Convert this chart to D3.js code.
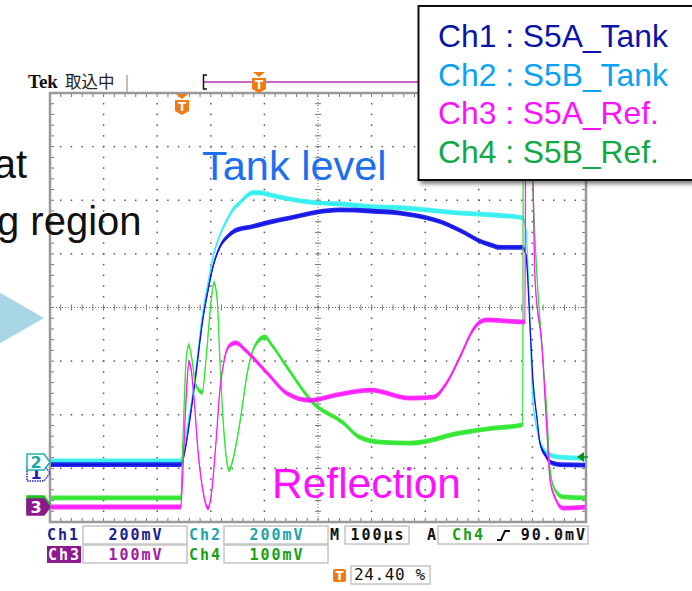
<!DOCTYPE html>
<html><head><meta charset="utf-8">
<script src="https://cdn.jsdelivr.net/npm/d3@7/dist/d3.min.js"></script>
<style>html,body{margin:0;padding:0;background:#fff;}svg{display:block;}</style>
</head><body>
<script>
// ---- data: time in µs (10 div x 100 µs), level in graticule divisions ----
const timeRange = [0, 1000];
const divRange = [-4, 4];
const ch1 = [[0,-2.93],[244,-2.93],[252,-2.66],[258,-2.29],[271,-1.35],[285,-0.23],[295,0.33],[304,0.76],[317,1.13],[332,1.33],[349,1.45],[373,1.50],[405,1.58],[448,1.67],[498,1.78],[541,1.82],[597,1.80],[653,1.76],[703,1.67],[728,1.60],[752,1.50],[774,1.39],[797,1.26],[821,1.17],[840,1.12],[882,1.12],[888,0.98],[896,-0.42],[901,-1.35],[909,-2.10],[914,-2.53],[924,-2.75],[933,-2.88],[952,-2.93],[1000,-2.94]];
const ch2 = [[0,-2.86],[244,-2.86],[252,-2.47],[261,-1.97],[272,-1.17],[285,-0.10],[295,0.46],[304,0.94],[317,1.35],[330,1.63],[341,1.82],[354,1.95],[367,2.08],[379,2.14],[392,2.14],[410,2.10],[448,2.02],[498,1.95],[541,1.93],[597,1.88],[653,1.86],[703,1.82],[765,1.76],[821,1.73],[882,1.67],[888,1.45],[894,0.14],[901,-1.73],[909,-2.29],[918,-2.60],[933,-2.75],[951,-2.79],[1000,-2.81]];
const ch3 = [[0,-3.72],[244,-3.72],[248,-3.03],[252,-2.10],[256,-1.35],[259,-1.02],[263,-1.13],[269,-1.73],[276,-2.66],[285,-3.40],[295,-3.74],[302,-3.40],[310,-2.47],[317,-1.54],[325,-0.98],[334,-0.72],[347,-0.66],[364,-0.79],[383,-0.98],[405,-1.22],[442,-1.60],[485,-1.73],[535,-1.63],[597,-1.54],[672,-1.69],[715,-1.67],[741,-1.39],[765,-0.92],[789,-0.42],[802,-0.27],[815,-0.23],[882,-0.27],[886,-0.27],[888,4.2],[897,4.2],[905,0.51],[918,-0.74],[927,-2.29],[933,-3.22],[942,-3.54],[957,-3.74],[1000,-3.72]];
const ch4 = [[0,-3.55],[244,-3.55],[248,-2.47],[254,-0.98],[259,-0.70],[265,-0.98],[272,-1.45],[284,-1.58],[291,-0.98],[299,-0.05],[306,0.46],[312,0.14],[317,-0.98],[323,-2.10],[330,-2.88],[334,-3.03],[341,-2.85],[355,-2.10],[369,-1.17],[383,-0.70],[401,-0.55],[414,-0.70],[442,-1.11],[491,-1.78],[547,-2.15],[578,-2.42],[616,-2.51],[672,-2.53],[765,-2.34],[827,-2.25],[882,-2.19],[883,4.2],[895,4.2],[901,2.19],[909,0.51],[918,-0.74],[927,-1.97],[933,-3.03],[942,-3.40],[957,-3.53],[1000,-3.55]];
const channelNames = ["Ch1 : S5A_Tank","Ch2 : S5B_Tank","Ch3 : S5A_Ref.","Ch4 : S5B_Ref."];
const row1 = [["Ch1","200mV"],["Ch2","200mV"]];
const row2 = [["Ch3","100mV"],["Ch4","100mV"]];
const timebase = "100µs";
const trigSource = "Ch4", trigLevel = "90.0mV", trigPos = "24.40 %";

const W = 692, H = 591;
const svg = d3.select("body").append("svg").attr("width", W).attr("height", H);
const X0 = 50, X1 = 586, Y0 = 93, Y1 = 522;
const xS = d3.scaleLinear().domain(timeRange).range([X0, X1]);
const yS = d3.scaleLinear().domain(divRange).range([Y1, Y0]);

const defs = svg.append("defs");
defs.append("clipPath").attr("id","plotclip").append("rect").attr("x",X0+1).attr("y",Y0+1).attr("width",X1-X0-2).attr("height",Y1-Y0-2);
const f = defs.append("filter").attr("id","shadow").attr("x","-10%").attr("y","-10%").attr("width","130%").attr("height","130%");
f.append("feDropShadow").attr("dx",3).attr("dy",3).attr("stdDeviation",2).attr("flood-color","#444").attr("flood-opacity",0.7);

svg.append("rect").attr("width",W).attr("height",H).attr("fill","#fff");

// light blue arrow at left
svg.append("path").attr("d","M-5,290 L44,318 L-5,346 Z").attr("fill","#a9d6e6");

// ---- graticule ----
const g = svg.append("g");
const divs = d3.range(0, 11);
const sub = d3.range(0, 51);
divs.forEach(i => {
  if (i === 0 || i === 10 || i === 5) return;
  const x = xS(i*100);
  d3.range(-20, 21).forEach(k => {
    g.append("rect").attr("x", x-0.75).attr("y", yS(k/5)-0.75).attr("width",1.5).attr("height",1.5).attr("fill","#555");
  });
});
d3.range(-3, 4).forEach(j => {
  if (j === 0) return;
  const y = yS(j);
  sub.forEach(k => {
    g.append("rect").attr("x", xS(k*20)-0.75).attr("y", y-0.75).attr("width",1.5).attr("height",1.5).attr("fill","#555");
  });
});
g.append("line").attr("x1",X0).attr("x2",X1).attr("y1",yS(0)).attr("y2",yS(0)).attr("stroke","#666").attr("stroke-width",1).attr("stroke-dasharray","1,2");
g.append("line").attr("x1",xS(500)).attr("x2",xS(500)).attr("y1",Y0).attr("y2",Y1).attr("stroke","#666").attr("stroke-width",1).attr("stroke-dasharray","1,2");
sub.forEach(k => {
  const x = xS(k*20);
  g.append("line").attr("x1",x).attr("x2",x).attr("y1",yS(0)-3).attr("y2",yS(0)+3).attr("stroke","#777").attr("stroke-width",1);
  g.append("line").attr("x1",x).attr("x2",x).attr("y1",Y0).attr("y2",Y0+4).attr("stroke","#777");
  g.append("line").attr("x1",x).attr("x2",x).attr("y1",Y1).attr("y2",Y1-4).attr("stroke","#777");
});
d3.range(-20, 21).forEach(k => {
  const y = yS(k/5);
  g.append("line").attr("x1",xS(500)-3).attr("x2",xS(500)+3).attr("y1",y).attr("y2",y).attr("stroke","#777");
  g.append("line").attr("x1",X0).attr("x2",X0+4).attr("y1",y).attr("y2",y).attr("stroke","#777");
  g.append("line").attr("x1",X1).attr("x2",X1-4).attr("y1",y).attr("y2",y).attr("stroke","#777");
});
g.append("rect").attr("x",X0).attr("y",Y0).attr("width",X1-X0).attr("height",Y1-Y0).attr("fill","none").attr("stroke","#999").attr("stroke-width",2.5);

// ---- traces ----
const traces = svg.append("g").attr("clip-path","url(#plotclip)");
const series = [
  {d: ch2, c: "#30f0f0"},
  {d: ch1, c: "#1010e8"},
  {d: ch4, c: "#2ee62e"},
  {d: ch3, c: "#ff1aff"}
];
const half = 2.4;
series.forEach(s => {
  const area = d3.area().curve(d3.curveMonotoneX).x(p => xS(p[0])).y0(p => yS(p[1]) + half).y1(p => yS(p[1]) - half);
  const line = d3.line().curve(d3.curveMonotoneX).x(p => xS(p[0])).y(p => yS(p[1]));
  traces.append("path").attr("d", area(s.d)).attr("fill", s.c).attr("opacity", 0.9);
  traces.append("path").attr("d", line(s.d)).attr("fill","none").attr("stroke", s.c).attr("stroke-width", 1.3);
});

// ---- header ----
svg.append("text").attr("x",28).attr("y",88).attr("font-family","Liberation Serif").attr("font-weight","bold").attr("font-size",19).attr("fill","#111").text("Tek");
svg.append("text").attr("x",65).attr("y",88).attr("font-family","Noto Sans CJK JP").attr("font-size",16.5).attr("fill","#222").text("取込中");
svg.append("line").attr("x1",127).attr("x2",127).attr("y1",75).attr("y2",92).attr("stroke","#aaa").attr("stroke-width",1.5);
svg.append("line").attr("x1",204).attr("x2",430).attr("y1",82).attr("y2",82).attr("stroke","#c468c4").attr("stroke-width",2);
svg.append("path").attr("d","M207,75 H203.5 V89 H207").attr("fill","none").attr("stroke","#111").attr("stroke-width",1.5);
function tMarker(cx, top) {
  const gg = svg.append("g");
  gg.append("path").attr("d",`M${cx-6},${top} H${cx+6} L${cx},${top+5} Z`).attr("fill","#f07a14");
  gg.append("path").attr("d",`M${cx-7},${top+6} H${cx+7} V${top+17} L${cx},${top+21} L${cx-7},${top+17} Z`).attr("fill","#f07a14");
  gg.append("text").attr("x",cx).attr("y",top+17).attr("text-anchor","middle").attr("font-family","DejaVu Sans").attr("font-weight","bold").attr("font-size",12).attr("fill","#fff").text("T");
}
tMarker(259, 72);
tMarker(182, 94);

// channel markers on left
function chMarker(yc, fill, stroke, label, txtColor, dash) {
  const gg = svg.append("g");
  gg.append("path").attr("d",`M27,${yc-8} H44 L50,${yc} L44,${yc+8} H27 Z`).attr("fill",fill).attr("stroke",stroke).attr("stroke-width",1.5).attr("stroke-dasharray",dash||null);
  if (label) gg.append("text").attr("x",36).attr("y",yc+6).attr("text-anchor","middle").attr("font-family","DejaVu Sans").attr("font-weight","bold").attr("font-size",16).attr("fill",txtColor).text(label);
}
chMarker(473, "#fff", "#2020c0", "1", "#2020c0", "1.5,1");
chMarker(462, "#fff", "#20b0b0", "2", "#20a8a8");
chMarker(504, "#22c022", "#22c022", null, "#fff");
chMarker(507, "#8c1a8c", "#8c1a8c", "3", "#fff");

// trigger level arrow (right)
svg.append("path").attr("d","M577,457 L584,452 L584,462 Z").attr("fill","#109010");
svg.append("line").attr("x1",583).attr("x2",588).attr("y1",457).attr("y2",457).attr("stroke","#109010").attr("stroke-width",1.5);

// ---- status readout ----
const mono = {family:"DejaVu Sans Mono", size:15};
function stxt(x, y, t, color, anchor, bold) {
  return svg.append("text").attr("x",x).attr("y",y).attr("text-anchor",anchor||"start").attr("font-family",mono.family).attr("font-weight",bold===false?"normal":"bold").attr("font-size",mono.size).attr("letter-spacing",2).attr("fill",color).text(t);
}
function sbox(x, y, w, h) {
  svg.append("rect").attr("x",x).attr("y",y).attr("width",w).attr("height",h).attr("fill","#fff").attr("stroke","#c4c4c4").attr("stroke-width",1.5);
}
sbox(83,526,104,18); sbox(224,526,104,18);
sbox(83,545,104,18); sbox(224,545,104,18);
stxt(47,540,row1[0][0],"#1a2090"); stxt(136,540,row1[0][1],"#1a2090","middle");
stxt(189,540,row1[1][0],"#1fa3a8"); stxt(277,540,row1[1][1],"#1fa3a8","middle");
svg.append("rect").attr("x",47).attr("y",546).attr("width",34).attr("height",17).attr("fill","#8c1a8c");
stxt(48,560,row2[0][0],"#fff"); stxt(136,560,row2[0][1],"#a020a0","middle");
stxt(189,560,row2[1][0],"#18a018"); stxt(277,560,row2[1][1],"#18a018","middle");
stxt(330,540,"M","#111");
sbox(345,526,64,18); stxt(378,540,timebase,"#111","middle");
stxt(427,540,"A","#111");
sbox(438,526,150,18);
stxt(452,540,trigSource,"#18a018");
svg.append("path").attr("d","M497,540 H501 L505,531 H510").attr("fill","none").attr("stroke","#111").attr("stroke-width",2);
stxt(587,540,trigLevel,"#111","end");
svg.append("rect").attr("x",333).attr("y",569).attr("width",13).attr("height",13).attr("rx",2).attr("fill","#f07a14");
svg.append("text").attr("x",339.5).attr("y",580).attr("text-anchor","middle").attr("font-family","DejaVu Sans").attr("font-weight","bold").attr("font-size",12).attr("fill","#fff").text("T");
sbox(351,566,79,18);
stxt(354,580,trigPos,"#111","start",false).attr("font-size",16).attr("letter-spacing",0.6);

// ---- annotation texts ----
const sans = "Liberation Sans";
svg.append("text").attr("x",27).attr("y",178).attr("text-anchor","end").attr("font-family",sans).attr("font-size",40).attr("fill","#111").text("at");
svg.append("text").attr("x",-3).attr("y",235).attr("font-family",sans).attr("font-size",40).attr("fill","#111").text("g region");
svg.append("text").attr("x",202).attr("y",180).attr("font-family",sans).attr("font-size",41.5).attr("fill","#1e6ff0").text("Tank level");
svg.append("text").attr("x",272).attr("y",498).attr("font-family",sans).attr("font-size",42.5).attr("fill","#ff10ff").text("Reflection");

// ---- legend box ----
svg.append("rect").attr("x",418.5).attr("y",6).attr("width",290).attr("height",174).attr("fill","#fff").attr("stroke","#111").attr("stroke-width",2).attr("filter","url(#shadow)");
const legColors = ["#0c14a8","#0aa2f2","#ff10ff","#10a848"];
channelNames.forEach((n, i) => {
  svg.append("text").attr("x",438).attr("y",47 + i*38.7).attr("font-family",sans).attr("font-size",31.8).attr("fill",legColors[i]).text(n);
});
</script>
</body></html>
